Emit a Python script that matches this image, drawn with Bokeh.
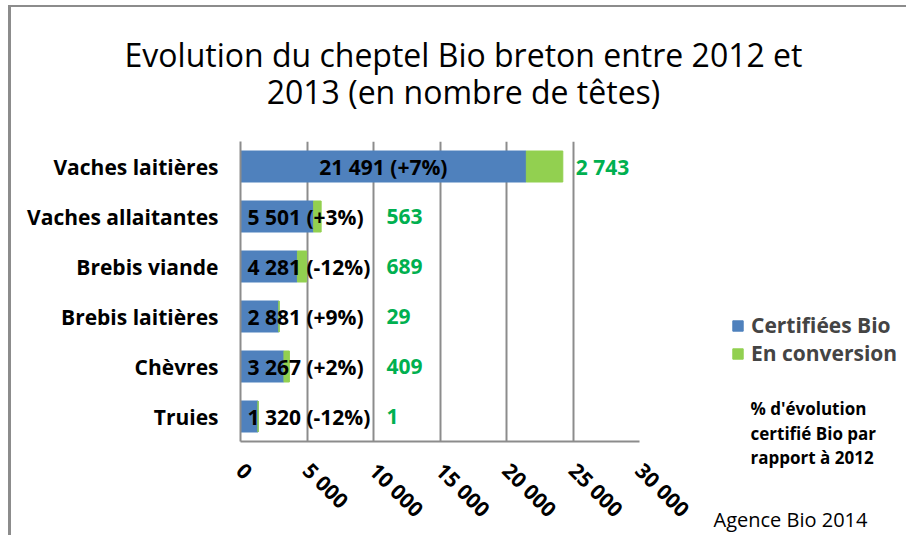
from bokeh.plotting import figure
from bokeh.layouts import column, row
from bokeh.models import FactorRange, Range1d, FixedTicker, Label, Legend, LegendItem, ColumnDataSource
from bokeh.embed import file_html
from bokeh.resources import INLINE
import math

categories = ["Vaches laitières", "Vaches allaitantes", "Brebis viande", "Brebis laitières", "Chèvres", "Truies"]
certifiees = [21491, 5501, 4281, 2881, 3267, 1320]
conversion = [2743, 563, 689, 29, 409, 1]
evolution = ["+7%", "+3%", "-12%", "+9%", "+2%", "-12%"]
tick_values = [0, 5000, 10000, 15000, 20000, 25000, 30000]
tick_labels = ["0", "5 000", "10 000", "15 000", "20 000", "25 000", "30 000"]
series_names = ["Certifiées Bio", "En conversion"]
title_lines = ["Evolution du cheptel Bio breton entre 2012 et", "2013 (en nombre de têtes)"]
note_lines = ["% d'évolution", "certifié Bio par", "rapport à 2012"]
source_text = "Agence Bio 2014"

BLUE = "#4F81BD"
GREEN = "#92D050"
GREEN_TXT = "#00B050"
GRAY = "#8C8C8C"
FONT = "Open Sans"

def fmt(n):
    return f"{n:,}".replace(",", " ")

def blank(w, h):
    f = figure(width=w, height=h, output_backend="svg", toolbar_location=None,
               x_range=Range1d(0, w), y_range=Range1d(h, 0),
               x_axis_type=None, y_axis_type=None, min_border=0)
    f.outline_line_color = None
    f.xgrid.visible = False
    f.ygrid.visible = False
    f.frame_align = False
    return f

# ---------- title ----------
TW, TH = 895, 113
tf = blank(TW, TH)
for k, line in enumerate(title_lines):
    tf.add_layout(Label(x=452, y=47 + 37 * k, text=line, text_align="center", text_baseline="middle",
                        text_font=FONT, text_font_size="32px", text_color="black"))

# ---------- main chart ----------
p = figure(width=689, height=415, output_backend="svg", toolbar_location=None,
           y_range=FactorRange(*reversed(categories)), x_range=Range1d(0, 30000),
           min_border_left=229, min_border_right=61, min_border_top=21, min_border_bottom=94)
p.outline_line_color = None
p.frame_align = False

tot = [a + b for a, b in zip(certifiees, conversion)]
src = ColumnDataSource(dict(cat=categories, cert=certifiees, tot=tot))
p.hbar(y="cat", left=0, right="cert", height=0.62, color=BLUE, source=src)
p.hbar(y="cat", left="cert", right="tot", height=0.62, color=GREEN, source=src)

p.xaxis.ticker = FixedTicker(ticks=tick_values)
p.xaxis.major_label_overrides = {v: l for v, l in zip(tick_values, tick_labels)}
p.xaxis.major_label_orientation = -math.pi / 4
p.xaxis.major_label_text_font = FONT
p.xaxis.major_label_text_font_style = "bold"
p.xaxis.major_label_text_font_size = "21px"
p.xaxis.major_label_text_color = "black"
p.xaxis.major_label_standoff = 19
p.xaxis.major_tick_line_color = None
p.xaxis.minor_tick_line_color = None
p.xaxis.axis_line_color = GRAY
p.xaxis.axis_line_width = 2

p.yaxis.major_label_text_font = FONT
p.yaxis.major_label_text_font_style = "bold"
p.yaxis.major_label_text_font_size = "21px"
p.yaxis.major_label_text_color = "black"
p.yaxis.major_label_standoff = 16
p.yaxis.major_tick_line_color = None
p.yaxis.axis_line_color = GRAY
p.yaxis.axis_line_width = 2

p.xgrid.grid_line_color = GRAY
p.xgrid.grid_line_width = 2
p.xgrid.ticker = FixedTicker(ticks=tick_values)
p.ygrid.grid_line_color = None

n = len(categories)
for i, (v, cv, ev, t) in enumerate(zip(certifiees, conversion, evolution, tot)):
    yc = n - i - 0.5
    txt = f"{fmt(v)} ({ev})"
    if v > 10000:
        p.add_layout(Label(x=v / 2, y=yc, text=txt, text_align="center", text_baseline="middle",
                           text_font=FONT, text_font_style="bold", text_font_size="21px", text_color="black"))
    else:
        p.add_layout(Label(x=0, y=yc, x_offset=7, text=txt, text_align="left", text_baseline="middle",
                           text_font=FONT, text_font_style="bold", text_font_size="21px", text_color="black"))
    gx = t if t > 10000 else 10000
    p.add_layout(Label(x=gx, y=yc, x_offset=13, text=fmt(cv), text_align="left", text_baseline="middle",
                       text_font=FONT, text_font_style="bold", text_font_size="21px", text_color=GREEN_TXT))

# ---------- side panel: legend, note, source ----------
SW, SH = 206, 415
sf = blank(SW, SH)
e = ColumnDataSource(dict(y=[0], l=[0], r=[1]))
lr1 = sf.hbar(y="y", left="l", right="r", height=1, color=BLUE, source=e, visible=False)
lr2 = sf.hbar(y="y", left="l", right="r", height=1, color=GREEN, source=e, visible=False)
legend = Legend(items=[LegendItem(label=series_names[0], renderers=[lr1]),
                       LegendItem(label=series_names[1], renderers=[lr2])],
                location=(31, 168), orientation="vertical",
                glyph_width=13, glyph_height=13, padding=0, margin=0, spacing=-8,
                label_standoff=7, label_text_font=FONT, label_text_font_style="bold",
                label_text_font_size="21px", border_line_color=None, background_fill_alpha=0,
                inactive_fill_alpha=0)
sf.add_layout(legend, "center")
for k, line in enumerate(note_lines):
    sf.add_layout(Label(x=50, y=288 + 24.5 * k, text=line, text_align="left", text_baseline="middle",
                        text_font=FONT, text_font_style="bold", text_font_size="17px", text_color="black"))
sf.add_layout(Label(x=13, y=399, text=source_text, text_align="left", text_baseline="middle",
                    text_font=FONT, text_font_size="20px", text_color="black"))

layout = column(tf, row(p, sf), styles={"border-top": "2px solid #8C8C8C", "border-left": "3px solid #8C8C8C",
                                        "margin-left": "8px", "margin-top": "5px"})

open("out.html", "w").write(file_html(layout, INLINE))
